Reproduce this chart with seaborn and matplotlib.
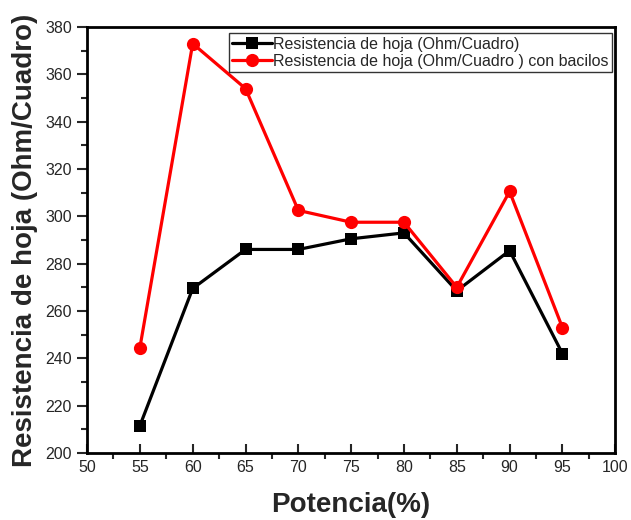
import matplotlib.pyplot as plt
import numpy as np
import pandas as pd
import seaborn as sns
from matplotlib.ticker import MultipleLocator

potencia = [55, 60, 65, 70, 75, 80, 85, 90, 95]
resistencia = [211.5, 269.5, 286, 286, 290.5, 293, 268.5, 285.5, 242]
resistencia_bacilos = [244.5, 373, 354, 302.5, 297.5, 297.5, 270, 310.5, 253]

label_1 = 'Resistencia de hoja (Ohm/Cuadro)'
label_2 = 'Resistencia de hoja (Ohm/Cuadro ) con bacilos'

sns.set_style('ticks')
plt.rcParams['font.family'] = ['Liberation Sans', 'DejaVu Sans']

fig = plt.figure(figsize=(6.31, 5.2), dpi=100)
ax = fig.add_axes([0.138, 0.129, 0.837, 0.819])

df1 = pd.DataFrame({'x': potencia, 'y': resistencia})
df2 = pd.DataFrame({'x': potencia, 'y': resistencia_bacilos})

sns.lineplot(data=df1, x='x', y='y', ax=ax, color='black', marker='s',
             markersize=8.5, linewidth=2.3, markeredgewidth=0, label=label_1)
sns.lineplot(data=df2, x='x', y='y', ax=ax, color='#ff0000', marker='o',
             markersize=9.5, linewidth=2.3, markeredgewidth=0, label=label_2)

ax.set_xlim(50, 100)
ax.set_ylim(200, 380)
ax.xaxis.set_major_locator(MultipleLocator(5))
ax.xaxis.set_minor_locator(MultipleLocator(2.5))
ax.yaxis.set_major_locator(MultipleLocator(20))
ax.yaxis.set_minor_locator(MultipleLocator(10))

ax.tick_params(axis='x', which='major', direction='in', length=6.5, width=1.5,
               labelsize=11.5, pad=5)
ax.tick_params(axis='x', which='minor', direction='out', length=4, width=1.5)
ax.tick_params(axis='y', which='major', direction='out', length=7, width=1.5,
               labelsize=11.5, pad=4)
ax.tick_params(axis='y', which='minor', direction='out', length=4, width=1.5)
for s in ax.spines.values():
    s.set_linewidth(2)
    s.set_color('black')

ax.set_xlabel('Potencia(%)', fontsize=20, fontweight='bold', labelpad=12)
ax.set_ylabel('Resistencia de hoja (Ohm/Cuadro)', fontsize=20, fontweight='bold', labelpad=5)

leg = ax.legend(loc='upper right', bbox_to_anchor=(0.993, 0.985), fontsize=11.5,
                frameon=True, fancybox=False, borderpad=0.2, handlelength=2.5,
                handletextpad=0.05, labelspacing=0.15, borderaxespad=0)
leg.get_frame().set_edgecolor('black')
leg.get_frame().set_linewidth(1)

fig.savefig('out.png', dpi=100)
